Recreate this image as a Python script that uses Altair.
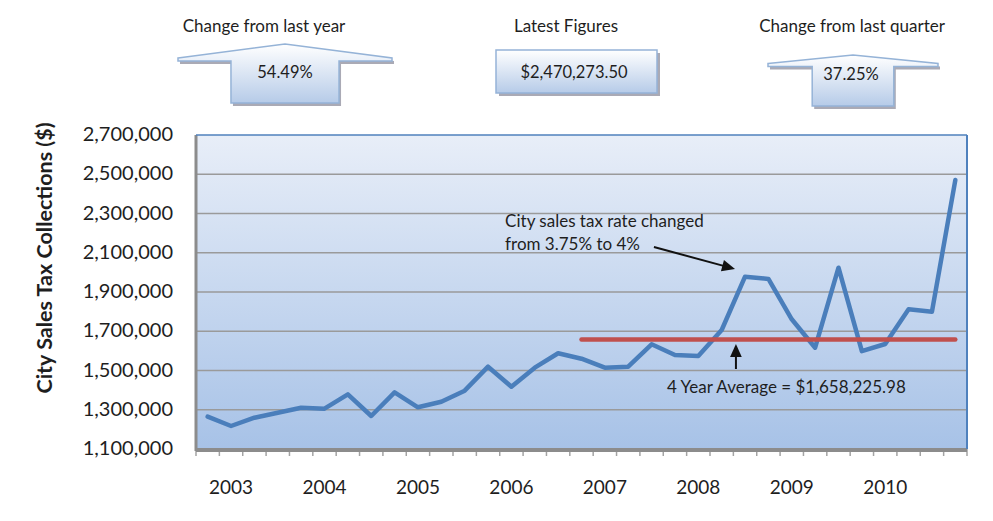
import altair as alt
import pandas as pd

# ---------------- data ----------------
# quarterly collections, 2002 Q4 ... 2010 Q4 (33 quarters)
quarter_index = [0, 1, 2, 3, 4, 5, 6, 7, 8, 9, 10, 11, 12, 13, 14, 15, 16,
                 17, 18, 19, 20, 21, 22, 23, 24, 25, 26, 27, 28, 29, 30, 31, 32]
collections = [1264600, 1217200, 1259600, 1285000, 1310500, 1305400, 1378700, 1268200,
               1388900, 1312500, 1341000, 1397100, 1519400, 1417500, 1514300, 1587700,
               1560000, 1514300, 1519400, 1633500, 1579000, 1573900, 1706400, 1978000,
               1966300, 1760900, 1616200, 2023900, 1598900, 1635000, 1811900, 1799834,
               2470273.5]
year_labels = ["2003", "2004", "2005", "2006", "2007", "2008", "2009", "2010"]
year_label_index = [1, 5, 9, 13, 17, 21, 25, 29]
y_ticks = [1100000, 1300000, 1500000, 1700000, 1900000, 2100000, 2300000, 2500000, 2700000]
y_tick_labels = ["1,100,000", "1,300,000", "1,500,000", "1,700,000", "1,900,000",
                 "2,100,000", "2,300,000", "2,500,000", "2,700,000"]
avg_value = 1658225.98
avg_index = [16, 32]
header_titles = ["Change from last year", "Latest Figures", "Change from last quarter"]
header_values = ["54.49%", "$2,470,273.50", "37.25%"]
note_rate = ["City sales tax rate changed", "from 3.75% to 4%"]
note_avg = "4 Year Average = $1,658,225.98"

# ---------------- layout ----------------
W, H = 771, 314
FONT = "Lato"
TXT = "#1e1e1e"
xs = alt.Scale(domain=[-0.5, 32.5], nice=False, zero=False)
ys = alt.Scale(domain=[1100000, 2700000], nice=False, zero=False)

one = pd.DataFrame({"k": [0]})


def grad(c1, c2):
    return alt.LinearGradient(
        gradient="linear",
        stops=[alt.GradientStop(color=c1, offset=0), alt.GradientStop(color=c2, offset=1)],
        x1=0, x2=0, y1=0, y2=1,
    )


line_df = pd.DataFrame({"q": quarter_index, "v": collections})
avg_df = pd.DataFrame({"q": avg_index, "v": [avg_value, avg_value]})
grid_df = pd.DataFrame({"v": y_ticks[1:-1]})
ylab_df = pd.DataFrame({"v": y_ticks, "t": y_tick_labels})
tick_df = pd.DataFrame({"b": [i - 0.5 for i in quarter_index + [33]]})
year_df = pd.DataFrame({"q": year_label_index, "t": year_labels})

# background of plot area
bg = alt.Chart(one).mark_rect(fill=grad("#e8eef8", "#a7c2e7")).encode(
    x=alt.value(0), x2=alt.value(W), y=alt.value(0), y2=alt.value(H))

grid = alt.Chart(grid_df).mark_rule(color="#9a9a9a", strokeWidth=1.6).encode(
    y=alt.Y("v:Q", scale=ys, axis=None), x=alt.value(0), x2=alt.value(W))

ticks = alt.Chart(tick_df).mark_rule(color="#a3a3a3", strokeWidth=1.5).encode(
    x=alt.X("b:Q", scale=xs, axis=None), y=alt.value(H), y2=alt.value(H + 7))

border_left = alt.Chart(one).mark_rule(color="#8c8c8c", strokeWidth=3).encode(
    x=alt.value(0), y=alt.value(0), y2=alt.value(H + 2))
border_bottom = alt.Chart(one).mark_rule(color="#8c8c8c", strokeWidth=4).encode(
    x=alt.value(0), x2=alt.value(W), y=alt.value(H + 1))
border_top = alt.Chart(one).mark_rule(color="#4f81bd", strokeWidth=1.5).encode(
    x=alt.value(0), x2=alt.value(W), y=alt.value(0))
border_right = alt.Chart(one).mark_rule(color="#4f81bd", strokeWidth=2).encode(
    x=alt.value(W), y=alt.value(0), y2=alt.value(H))

line = alt.Chart(line_df).mark_line(
    color="#4a7ebb", strokeWidth=4.5, strokeJoin="round", strokeCap="round"
).encode(
    x=alt.X("q:Q", scale=xs, axis=None),
    y=alt.Y("v:Q", scale=ys, axis=None),
)

avg = alt.Chart(avg_df).mark_line(color="#c0504d", strokeWidth=4.5, strokeCap="round").encode(
    x=alt.X("q:Q", scale=xs, axis=None), y=alt.Y("v:Q", scale=ys, axis=None))

ylabels = alt.Chart(ylab_df).mark_text(
    font=FONT, fontSize=20, color=TXT, baseline="middle", align="right"
).encode(y=alt.Y("v:Q", scale=ys, axis=None), x=alt.value(-23), text="t:N")

years = alt.Chart(year_df).mark_text(
    font=FONT, fontSize=19, color=TXT, baseline="middle", align="center"
).encode(x=alt.X("q:Q", scale=xs, axis=None), y=alt.value(H + 39), text="t:N")

ytitle = alt.Chart(one).mark_text(
    text="City Sales Tax Collections ($)", font=FONT, fontSize=21.5, fontWeight="bold",
    color=TXT, angle=270, align="center", baseline="middle"
).encode(x=alt.value(-150), y=alt.value(123))

# annotations (anchored in data coordinates)
note1_df = pd.DataFrame({"q": [12.73, 12.73], "v": [2256700, 2139500], "t": note_rate})
note1 = alt.Chart(note1_df).mark_text(
    font=FONT, fontSize=17, color=TXT, align="left", baseline="middle"
).encode(x=alt.X("q:Q", scale=xs, axis=None), y=alt.Y("v:Q", scale=ys, axis=None), text="t:N")

note2_df = pd.DataFrame({"q": [19.66], "v": [1410800], "t": [note_avg]})
note2 = alt.Chart(note2_df).mark_text(
    font=FONT, fontSize=17, color=TXT, align="left", baseline="middle"
).encode(x=alt.X("q:Q", scale=xs, axis=None), y=alt.Y("v:Q", scale=ys, axis=None), text="t:N")

arrow_df = pd.DataFrame({"q1": [19.10, 22.61], "v1": [2129300, 1507600],
                         "q2": [22.20, 22.61], "v2": [2029400, 1589200]})
arrow_lines = alt.Chart(arrow_df).mark_rule(color="#111111", strokeWidth=2).encode(
    x=alt.X("q1:Q", scale=xs, axis=None), x2="q2:Q",
    y=alt.Y("v1:Q", scale=ys, axis=None), y2="v2:Q")

HEAD = "M0,0 L-1,-0.45 L-1,0.45 Z"
head1 = alt.Chart(pd.DataFrame({"q": [22.57], "v": [2017200]})).mark_point(
    shape=HEAD, size=676, filled=True, fill="#111111", strokeWidth=0, opacity=1, angle=15
).encode(x=alt.X("q:Q", scale=xs, axis=None), y=alt.Y("v:Q", scale=ys, axis=None))
head2 = alt.Chart(pd.DataFrame({"q": [22.61], "v": [1635000]})).mark_point(
    shape=HEAD, size=676, filled=True, fill="#111111", strokeWidth=0, opacity=1, angle=270
).encode(x=alt.X("q:Q", scale=xs, axis=None), y=alt.Y("v:Q", scale=ys, axis=None))

# ---------------- header callouts (pixel positions relative to plot) ----------------
ARROW1 = ("M-1,-0.145 L0,-0.276 L1,-0.145 L1,-0.117 L0.505,-0.117 L0.505,0.276 "
          "L-0.505,0.276 L-0.505,-0.117 L-1,-0.117 Z")
ARROW3 = ("M-1,-0.2 L0,-0.3 L1,-0.2 L1,-0.165 L0.48,-0.165 L0.48,0.3 "
          "L-0.48,0.3 L-0.48,-0.165 L-1,-0.165 Z")
BOX_FILL = grad("#ffffff", "#b6cbe8")
BOX_STROKE = "#95b3d7"
SHADOW = "#8e8e9c"


def callout(path, cx, cy, size):
    sh = alt.Chart(one).mark_point(
        shape=path, size=size, filled=True, fill=SHADOW, strokeWidth=0, opacity=0.75
    ).encode(x=alt.value(cx + 2), y=alt.value(cy + 3))
    fg = alt.Chart(one).mark_point(
        shape=path, size=size, filled=True, fill=BOX_FILL, stroke=BOX_STROKE,
        strokeWidth=1.5, opacity=1
    ).encode(x=alt.value(cx), y=alt.value(cy))
    return sh + fg


c1 = callout(ARROW1, 89, -61.5, 214 ** 2)
c3 = callout(ARROW3, 657, -54.5, 170 ** 2)
box_sh = alt.Chart(one).mark_rect(fill=SHADOW, opacity=0.75).encode(
    x=alt.value(303), x2=alt.value(464), y=alt.value(-82), y2=alt.value(-39))
box = alt.Chart(one).mark_rect(fill=BOX_FILL, stroke=BOX_STROKE, strokeWidth=1.5).encode(
    x=alt.value(300), x2=alt.value(461), y=alt.value(-85), y2=alt.value(-42))

head_df = pd.DataFrame({"t": header_titles, "px": [68, 370, 656], "py": [-108, -108, -108]})
head_txt = alt.Chart(head_df).mark_text(
    font=FONT, fontSize=17, color=TXT, align="center", baseline="middle"
).encode(x=alt.X("px:Q", scale=None, axis=None), y=alt.Y("py:Q", scale=None, axis=None),
         text="t:N")
val_df = pd.DataFrame({"t": header_values, "px": [89, 378, 655], "py": [-62, -62, -60]})
val_txt = alt.Chart(val_df).mark_text(
    font=FONT, fontSize=16.5, color=TXT, align="center", baseline="middle"
).encode(x=alt.X("px:Q", scale=None, axis=None), y=alt.Y("py:Q", scale=None, axis=None),
         text="t:N")

chart = alt.layer(
    bg, grid, ticks, border_left, border_bottom, border_top, border_right,
    line, avg, ylabels, years, ytitle, note1, note2, arrow_lines, head1, head2,
    c1, c3, box_sh, box, head_txt, val_txt,
).properties(
    width=W, height=H,
    padding={"left": 188, "top": 127, "right": 10, "bottom": 70},
    autosize=alt.AutoSizeParams(type="none"),
    background="white",
).configure_view(stroke=None)

chart.save("out.html", embed_options={"renderer": "svg", "actions": False})
